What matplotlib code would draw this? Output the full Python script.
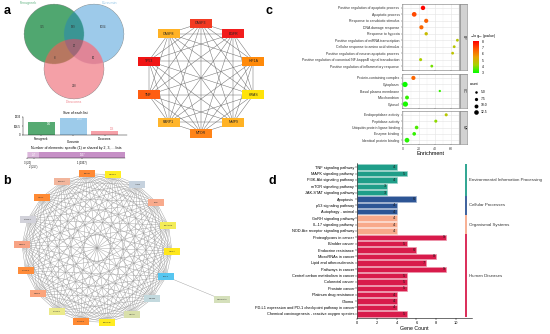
import numpy as np
import matplotlib
matplotlib.use("Agg")
import matplotlib.pyplot as plt
from matplotlib.patches import Rectangle
from matplotlib.colors import LinearSegmentedColormap, Normalize, to_rgb
from matplotlib.cm import ScalarMappable
from itertools import combinations

plt.rcParams["font.family"] = ["Liberation Sans", "DejaVu Sans"]

W, H = 550, 334

# ---- panel a: venn + list sizes
set_names = ["Fenugreek", "Curcumin", "Dioscorea"]
region_keys = ["100", "110", "010", "111", "101", "011", "001"]
region_counts = [715, 189, 1004, 20, 8, 60, 218]
region_colors = ["#50a870", "#3a9694", "#9dcbea", "#a06878", "#b87860", "#e08598", "#f4a0a8"]
list_sizes = [932, 1273, 306]
shared_names = ["3 (20)", "2 (257)", "1 (1937)"]
shared_counts = [20, 257, 1937]

# ---- panel a: hub gene network
hub_genes = ["CASP3", "EGFR", "HIF1A", "HRAS", "MMP9", "MTOR", "PARP1", "TNF", "TP53", "CASP8"]
hub_colors = ["#f23a22", "#f21d1d", "#ff8a0a", "#ffe30a", "#ffb224", "#ff8418",
              "#ffb52c", "#ff5e12", "#f01414", "#ffb224"]

# ---- panel b: PPI network
net_genes = ["EGFR", "NR3C1", "ACE", "TNF", "LGALS3", "HIF1A", "TP53", "MTOR", "HRAS",
             "PRKCD", "CASP3", "CASP1", "MMP9", "CASP8", "MMP2", "PARP1", "CDK1", "TOP2A"]
net_colors = ["#ff8a35", "#ffee22", "#c6d2de", "#f8aa8c", "#f3ec58", "#ffe71c", "#57c6f0",
              "#c3d9de", "#d9e0aa", "#ffec22", "#ff8a33", "#ebea8a", "#fba47c", "#ff8c3a",
              "#f8a384", "#d2d2da", "#ff8a33", "#f2b59c"]
extra_gene = "CYP19A1"
extra_partner = "TP53"
extra_color = "#d5e0bb"

# ---- panel c: GO enrichment
bp_terms = ["Positive regulation of apoptotic process", "Apoptotic process",
            "Response to xenobiotic stimulus", "DNA damage response", "Response to hypoxia",
            "Positive regulation of miRNA transcription", "Cellular response to amino acid stimulus",
            "Positive regulation of neuron apoptotic process",
            "Positive regulation of canonical NF-kappaB signal transduction",
            "Positive regulation of inflammatory response"]
bp_enrich = [25, 14, 29, 23, 29, 68, 64, 62, 22, 36]
bp_logp = [8.0, 7.0, 6.6, 6.5, 4.8, 4.5, 4.5, 4.6, 4.3, 3.8]
bp_count = [12, 13, 11, 11, 8, 6, 6, 6, 7, 6]

cc_terms = ["Protein-containing complex", "Cytoplasm", "Basal plasma membrane",
            "Mitochondrion", "Cytosol"]
cc_enrich = [13, 2.5, 46, 5, 3]
cc_logp = [6.5, 3.0, 3.3, 3.3, 3.1]
cc_count = [11, 15, 4, 10, 15]

mf_terms = ["Endopeptidase activity", "Peptidase activity", "Ubiquitin protein ligase binding",
            "Enzyme binding", "Identical protein binding"]
mf_enrich = [54, 41, 17, 14, 5]
mf_logp = [4.5, 4.0, 3.5, 3.3, 3.2]
mf_count = [7, 7, 9, 9, 13]

legend_counts = [5.0, 7.5, 10.0, 12.5]

# ---- panel d: KEGG
kegg_terms = ["TNF signaling pathway", "MAPK signaling pathway", "PI3K-Akt signaling pathway",
              "mTOR signaling pathway", "JAK-STAT signaling pathway", "Apoptosis",
              "p53 signaling pathway", "Autophagy - animal", "GnRH signaling pathway",
              "IL-17 signaling pathway", "NOD-like receptor signaling pathway",
              "Proteoglycans in cancer", "Bladder cancer", "Endocrine resistance",
              "MicroRNAs in cancer", "Lipid and atherosclerosis", "Pathways in cancer",
              "Central carbon metabolism in cancer", "Colorectal cancer", "Prostate cancer",
              "Platinum drug resistance", "Glioma",
              "PD-L1 expression and PD-1 checkpoint pathway in cancer",
              "Chemical carcinogenesis - reactive oxygen species"]
kegg_counts = [4, 5, 4, 3, 3, 6, 4, 4, 4, 4, 4, 9, 5, 6, 8, 7, 9, 5, 5, 5, 4, 4, 4, 5]
kegg_class = (["Environmental Information Processing"] * 5 + ["Cellular Processes"] * 3
              + ["Organismal Systems"] * 3 + ["Human Diseases"] * 13)
class_names = ["Environmental Information Processing", "Cellular Processes",
               "Organismal Systems", "Human Diseases"]
class_colors = ["#1f9e89", "#2d5595", "#f8a98a", "#d81b4b"]


fig = plt.figure(figsize=(W / 100, H / 100), dpi=100)


def fax(x0, y0, x1, y1):
    # axes from pixel box (top-left origin)
    return fig.add_axes([x0 / W, 1 - y1 / H, (x1 - x0) / W, (y1 - y0) / H])


def lighten(c, f=0.5):
    r = np.array(to_rgb(c))
    return tuple(r + (1 - r) * f)


ov = fax(0, 0, W, H)
ov.set_xlim(0, W)
ov.set_ylim(H, 0)
ov.axis("off")

# ---------------- venn (raster of the 7 regions)
venn_centers = [(54, 34), (94, 34), (74, 69)]
venn_r = 30
x0, x1, y0, y1 = 20, 128, 2, 102
gx, gy = np.meshgrid(np.linspace(x0, x1, 432), np.linspace(y0, y1, 400))
masks = [((gx - cx) ** 2 + (gy - cy) ** 2) <= venn_r ** 2 for cx, cy in venn_centers]
img = np.zeros(gx.shape + (4,))
for key, col in zip(region_keys, region_colors):
    m = np.ones(gx.shape, bool)
    for bit, mk in zip(key, masks):
        m &= mk if bit == "1" else ~mk
    img[m] = list(to_rgb(col)) + [1.0]
ov.imshow(img, extent=(x0, x1, y1, y0), interpolation="antialiased", zorder=1)
ov.set_xlim(0, W)
ov.set_ylim(H, 0)
ov.set_aspect("auto")

region_pos = {"100": (42, 27), "110": (73, 27), "010": (103, 27), "111": (74, 46),
              "101": (55, 58), "011": (93, 58), "001": (74, 86)}
for k, n in zip(region_keys, region_counts):
    ov.text(*region_pos[k], str(n), fontsize=2, ha="center", va="center", color="#333333", zorder=3)
ov.text(28, 3, set_names[0], fontsize=2.6, color="#66b585", ha="center", va="center")
ov.text(110, 3, set_names[1], fontsize=2.6, color="#8ec3e6", ha="center", va="center")
ov.text(74, 102, set_names[2], fontsize=2.6, color="#f08a92", ha="center", va="center")

bar_cols = ["#56aa72", "#9dcbea", "#f6a0a8"]
axb = fax(23, 117, 127, 135)
xb = np.arange(len(list_sizes))
axb.bar(xb, list_sizes, width=0.85, color=bar_cols)
axb.set_xlim(-0.58, 2.7)
axb.set_ylim(0, 1333)
axb.set_yticks([0, 666.5, 1333], ["0", "666.5", "1333"], fontsize=2)
axb.set_xticks(xb, [""] * 3)
axb.tick_params(length=1, width=0.3, pad=0.8)
for s in ["top", "right"]:
    axb.spines[s].set_visible(False)
for s in ["left", "bottom"]:
    axb.spines[s].set_linewidth(0.3)
for i, (v, name) in enumerate(zip(list_sizes, set_names)):
    axb.text(i, -0.22 if i != 1 else -0.38, name, fontsize=2.2, ha="center", va="center",
             transform=axb.get_xaxis_transform())
    if v > 500:
        axb.text(i + 0.3, v - 120, str(v), fontsize=1.8, color="white", ha="right", va="center")
    else:
        axb.text(i + 0.3, v + 120, str(v), fontsize=1.8, color="#f08a92", ha="right", va="center")
axb.set_title("Size of each list", fontsize=2.5, pad=2)

axs = fax(27, 152, 125, 158)
left = 0
seg_cols = ["#e9d3e9", "#dcb8dc", "#c690c6"]
centers = []
for n, c in zip(shared_counts, seg_cols):
    axs.barh(0, n, left=left, height=1, color=c)
    centers.append(left + n / 2)
    left += n
for n, cx in zip(shared_counts[1:], centers[1:]):
    axs.text(cx, 0, str(n), fontsize=1.8, color="white", ha="center", va="center")
axs.set_xlim(0, sum(shared_counts))
axs.set_ylim(-0.5, 0.5)
axs.set_yticks([])
axs.set_xticks(centers, [shared_names[0], "\n" + shared_names[1], shared_names[2]], fontsize=1.9)
axs.tick_params(length=1, width=0.3, pad=0.8)
for s in ["top", "right", "left"]:
    axs.spines[s].set_visible(False)
axs.spines["bottom"].set_linewidth(0.3)
axs.set_title("Number of elements: specific (1) or shared by 2, 3, ... lists", fontsize=2.5, pad=2)

# ---------------- hub network (a)
hc, hr = (201, 78), 55
ang = np.deg2rad(90 - 36 * np.arange(len(hub_genes)))
hx = hc[0] + hr * np.cos(ang)
hy = hc[1] - hr * np.sin(ang)
for i, j in combinations(range(len(hub_genes)), 2):
    ov.plot([hx[i], hx[j]], [hy[i], hy[j]], color="#6e6e6e", lw=0.35, zorder=1)
for x, y, g, c in zip(hx, hy, hub_genes, hub_colors):
    ov.add_patch(Rectangle((x - 11, y - 4.5), 22, 9, fc=c, ec="none", zorder=2))
    ov.text(x, y, g, fontsize=2.5, ha="center", va="center", zorder=3, color="#222222")

# ---------------- PPI network (b)
bc, br = (97, 248), 75
ang_b = np.deg2rad(97.6 - 20 * np.arange(len(net_genes)))
bx = list(bc[0] + br * np.cos(ang_b))
by = list(bc[1] - br * np.sin(ang_b))
k = net_genes.index(extra_partner)
ex = bc[0] + 1.8 * br * np.cos(ang_b[k])
ey = bc[1] - 1.8 * br * np.sin(ang_b[k])
for i, j in combinations(range(len(net_genes)), 2):
    ov.plot([bx[i], bx[j]], [by[i], by[j]], color="#9a9a9a", lw=0.3, zorder=1)
ov.plot([bx[k], ex], [by[k], ey], color="#9a9a9a", lw=0.3, zorder=1)
for x, y, g, c in zip(bx + [ex], by + [ey], net_genes + [extra_gene], net_colors + [extra_color]):
    ov.add_patch(Rectangle((x - 8, y - 3.5), 16, 7, fc=c, ec="none", zorder=2))
    ov.text(x, y, g, fontsize=1.7, ha="center", va="center", zorder=3, color="#333333")

# panel letters
for lab, (x, y) in zip("abcd", [(7, 11), (7, 181), (269, 11), (272, 181)]):
    ov.text(x, y, lab, fontsize=9, fontweight="bold", ha="center", va="center")

# ---------------- panel c
cmap = LinearSegmentedColormap.from_list("go", ["#00ff00", "#a8d200", "#eba000", "#ff5500", "#ff0000"])
norm = Normalize(2.9, 8.1)


def dot_area(cnt):
    d = 1.2 + 0.27 * np.asarray(cnt, dtype=float)
    return (d * 0.72) ** 2


facets = [("BP", bp_terms, bp_enrich, bp_logp, bp_count, (402, 4, 459, 70)),
          ("CC", cc_terms, cc_enrich, cc_logp, cc_count, (402, 74, 459, 108)),
          ("MF", mf_terms, mf_enrich, mf_logp, mf_count, (402, 111, 459, 144))]
for fi, (name, terms, enr, lp, cnt, box) in enumerate(facets):
    ax = fax(*box)
    yy = np.arange(len(terms))
    ax.scatter(enr, yy, s=dot_area(cnt), c=lp, cmap=cmap, norm=norm, linewidths=0, zorder=3)
    ax.set_xlim(-1.25, 70)
    ax.set_ylim(len(terms) - 0.4, -0.6)
    ax.set_yticks(yy, terms, fontsize=2.5, color="#333333")
    ax.set_xticks([0, 20, 40, 60])
    ax.set_xticks([10, 30, 50, 70], minor=True)
    ax.grid(True, which="major", color="#e3e3e3", lw=0.4)
    ax.grid(True, which="minor", axis="x", color="#f0f0f0", lw=0.3)
    ax.set_axisbelow(True)
    ax.tick_params(length=1, width=0.3, pad=0.8, color="#444444")
    ax.tick_params(which="minor", length=0)
    for s in ax.spines.values():
        s.set_color("#777777")
        s.set_linewidth(0.4)
    if fi < 2:
        ax.set_xticklabels([])
    else:
        ax.tick_params(axis="x", labelsize=2.6, labelcolor="#444444")
        ax.set_xlabel("Enrichment", fontsize=4, labelpad=0.5)
    st = fax(460, box[1], 467, box[3])
    st.set_facecolor("#d2d2d2")
    st.set_xticks([])
    st.set_yticks([])
    for s in st.spines.values():
        s.set_color("#777777")
        s.set_linewidth(0.4)
    st.text(0.5, 0.5, name, rotation=-90, fontsize=2.5, ha="center", va="center",
            transform=st.transAxes, color="#222222")

axcb = fax(473, 41, 479, 73)
cb = fig.colorbar(ScalarMappable(norm=norm, cmap=cmap), cax=axcb, ticks=[3, 4, 5, 6, 7, 8])
cb.outline.set_visible(False)
axcb.tick_params(labelsize=2.4, length=1, width=0.3, color="white", pad=0.8)
ov.text(470, 36, r"$-\log_{10}$(pvalue)", fontsize=2.5, ha="left", va="center")
ov.text(470, 84, "count", fontsize=2.5, ha="left", va="center")
for yv, c in zip([92, 99, 105.5, 112], legend_counts):
    ov.scatter([476], [yv], s=dot_area([c]), color="black", linewidths=0)
    ov.text(481, yv, f"{c:.1f}", fontsize=2.4, ha="left", va="center")

# ---------------- panel d
axd = fax(357, 163, 472, 318)
yk = np.arange(len(kegg_terms))
cmap_cls = dict(zip(class_names, class_colors))
cols = [cmap_cls[c] for c in kegg_class]
axd.barh(yk, kegg_counts, height=0.84, color=cols, edgecolor=[lighten(c, 0.55) for c in cols], lw=0.5)
for yi, v in zip(yk, kegg_counts):
    axd.text(v - 0.12, yi, str(v), fontsize=2.8, ha="right", va="center", color="#1a1a1a")
axd.set_xlim(0, 11.6)
axd.set_ylim(len(kegg_terms) - 0.35, -0.65)
axd.set_yticks(yk, kegg_terms, fontsize=2.8)
axd.set_xticks([0, 2, 4, 6, 8, 10])
axd.tick_params(axis="x", labelsize=2.8)
axd.tick_params(length=1.2, width=0.3, pad=0.8)
axd.set_xlabel("Gene Count", fontsize=3.8, labelpad=1)
for s in ["top", "right"]:
    axd.spines[s].set_visible(False)
for s in ["left", "bottom"]:
    axd.spines[s].set_linewidth(0.4)
for cname, c in zip(class_names, class_colors):
    rows = [i for i, k2 in enumerate(kegg_class) if k2 == cname]
    axd.plot([11, 11], [min(rows) - 0.5, max(rows) + 0.5], color=c, lw=1.3,
             solid_capstyle="butt", clip_on=False)
    axd.text(11.25, np.mean(rows), cname, fontsize=3.2, ha="left", va="center", clip_on=False,
             color="#333333")

fig.savefig("out.png", dpi=100)
